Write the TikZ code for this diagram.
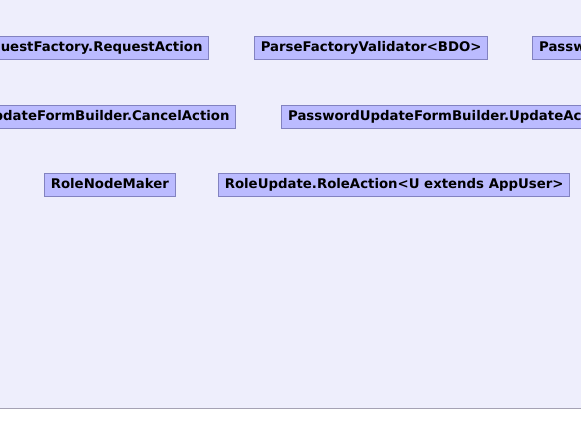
\documentclass[tikz,border=0pt]{standalone}
\usepackage{fontspec}
\setsansfont{DejaVu Sans}
\usetikzlibrary{positioning}

\definecolor{canvasbg}{RGB}{238,238,252}
\definecolor{boxfill}{RGB}{187,187,255}
\definecolor{boxline}{RGB}{130,130,192}
\definecolor{rulegray}{RGB}{165,162,180}

\tikzset{classbox/.style={draw=boxline, fill=boxfill, line width=1pt,
    font=\sffamily\bfseries\fontsize{13.3}{15}\selectfont,
    inner xsep=6.3pt, inner ysep=0pt, minimum height=23pt,
    text height=9.5pt, text depth=2.5pt}}

\begin{document}
\begin{tikzpicture}[x=1pt,y=-1pt]
  \useasboundingbox (0,0) rectangle (581,446);
  \clip (0,0) rectangle (581,446);
  % canvas
  \fill[canvasbg] (0,0) rectangle (581,408);
  \draw[rulegray, line width=1.2pt] (0,408.6) -- (581,408.6);
  % first row
  \node[classbox, anchor=east] (requestaction) at (209.3,48.2) {RequestFactory.RequestAction};
  \node[classbox, anchor=west] (parsevalidator) at (254,48.2) {ParseFactoryValidator<BDO>};
  \node[classbox, anchor=west] (passwordvalidator) at (532.3,48.2) {PasswordValidator};
  % second row
  \node[classbox, anchor=east] (cancelaction) at (236.3,116.7) {PasswordUpdateFormBuilder.CancelAction};
  \node[classbox, anchor=west] (updateaction) at (281.3,116.7) {PasswordUpdateFormBuilder.UpdateAction};
  % third row
  \node[classbox, anchor=west] (rolenodemaker) at (44,184.8) {RoleNodeMaker};
  \node[classbox, anchor=west] (roleaction) at (218,184.8) {RoleUpdate.RoleAction<U extends AppUser>};
\end{tikzpicture}
\end{document}
